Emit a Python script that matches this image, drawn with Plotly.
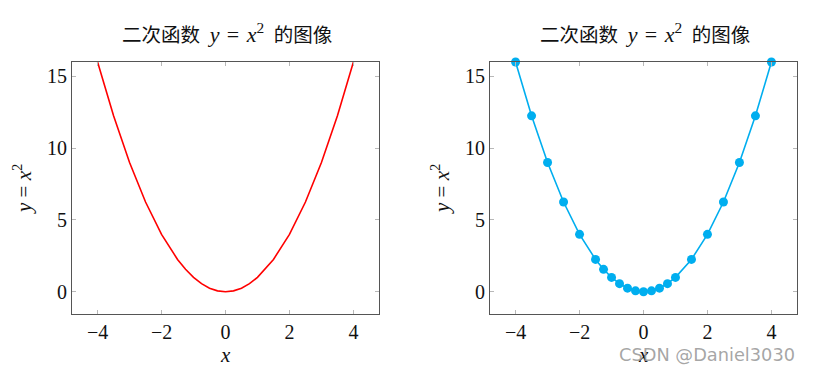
import plotly.graph_objects as go

x_vals = [-4, -3.5, -3, -2.5, -2, -1.5, -1.25, -1, -0.75, -0.5, -0.25, 0,
          0.25, 0.5, 0.75, 1, 1.5, 2, 2.5, 3, 3.5, 4]
y_vals = [16, 12.25, 9, 6.25, 4, 2.25, 1.5625, 1, 0.5625, 0.25, 0.0625, 0,
          0.0625, 0.25, 0.5625, 1, 2.25, 4, 6.25, 9, 12.25, 16]
x_ticks = [-4, -2, 0, 2, 4]
x_tick_text = ["\u22124", "\u22122", "0", "2", "4"]
y_ticks = [0, 5, 10, 15]
title_text = ("二次函数\u2002<span style='font-size:22px'><i>y</i>\u2004=\u2004"
              "<i>x</i><sup>2</sup></span>\u2002的图像")
ylabel_text = "<i>y</i> = <i>x</i><sup>2</sup>"
xlabel_text = "<i>x</i>"

W, H = 813, 372
serif = "Liberation Serif"
cjk = "Liberation Serif, Noto Sans CJK SC"

fig = go.Figure()
fig.add_trace(go.Scatter(x=x_vals, y=y_vals, mode="lines",
                         line=dict(color="#ff0000", width=1.6),
                         xaxis="x", yaxis="y", showlegend=False))
fig.add_trace(go.Scatter(x=x_vals, y=y_vals, mode="lines+markers",
                         line=dict(color="#00aeef", width=1.6),
                         marker=dict(color="#00aeef", size=9),
                         cliponaxis=False,
                         xaxis="x2", yaxis="y2", showlegend=False))

def px_x(p):
    return p / W

def px_y(p):
    return 1 - p / H

xd1 = [px_x(72), px_x(379)]
xd2 = [px_x(490), px_x(797)]
yd = [px_y(314), px_y(62)]

common_x = dict(range=[-4.8, 4.8], tickvals=x_ticks, ticktext=x_tick_text,
                ticks="inside", ticklen=4, tickcolor="#b8b8b8",
                showline=True, linecolor="#555", linewidth=1, mirror="allticks",
                showgrid=False, zeroline=False, automargin=False,
                tickfont=dict(family=serif, size=20, color="#111"))
common_y = dict(range=[-1.55, 16], tickvals=y_ticks,
                ticks="inside", ticklen=4, tickcolor="#b8b8b8",
                showline=True, linecolor="#555", linewidth=1, mirror="allticks",
                showgrid=False, zeroline=False, automargin=False,
                tickfont=dict(family=serif, size=20, color="#111"))

fig.update_layout(
    width=W, height=H,
    margin=dict(l=0, r=0, t=0, b=0, autoexpand=False),
    plot_bgcolor="white", paper_bgcolor="white",
    xaxis=dict(domain=xd1, anchor="y", **common_x),
    yaxis=dict(domain=yd, anchor="x", **common_y),
    xaxis2=dict(domain=xd2, anchor="y2", **common_x),
    yaxis2=dict(domain=yd, anchor="x2", **common_y),
)

annotations = []
for cx in [(72 + 379) / 2, (490 + 797) / 2]:
    annotations.append(dict(text=title_text, x=px_x(cx + 1), y=px_y(33),
                            xref="paper", yref="paper", showarrow=False,
                            xanchor="center", yanchor="middle",
                            font=dict(family=cjk, size=19.5, color="#111")))
for cx in [(72 + 379) / 2, (490 + 797) / 2]:
    annotations.append(dict(text=xlabel_text, x=px_x(cx), y=px_y(355),
                            xref="paper", yref="paper", showarrow=False,
                            xanchor="center", yanchor="middle",
                            font=dict(family=serif, size=21, color="#111")))
for lx in [22, 440]:
    annotations.append(dict(text=ylabel_text, x=px_x(lx), y=px_y(189),
                            xref="paper", yref="paper", showarrow=False,
                            xanchor="center", yanchor="middle", textangle=-90,
                            font=dict(family=serif, size=21, color="#111")))
annotations.append(dict(text="CSDN @Daniel3030", x=px_x(797), y=px_y(354),
                        xref="paper", yref="paper", showarrow=False,
                        xanchor="right", yanchor="middle",
                        font=dict(family="DejaVu Sans", size=17.8,
                                  color="rgba(150,150,150,0.85)")))
fig.update_layout(annotations=annotations)

fig.write_html("out.html", config={"displayModeBar": False},
               post_script="document.body.style.margin='0';document.body.style.padding='0';")
